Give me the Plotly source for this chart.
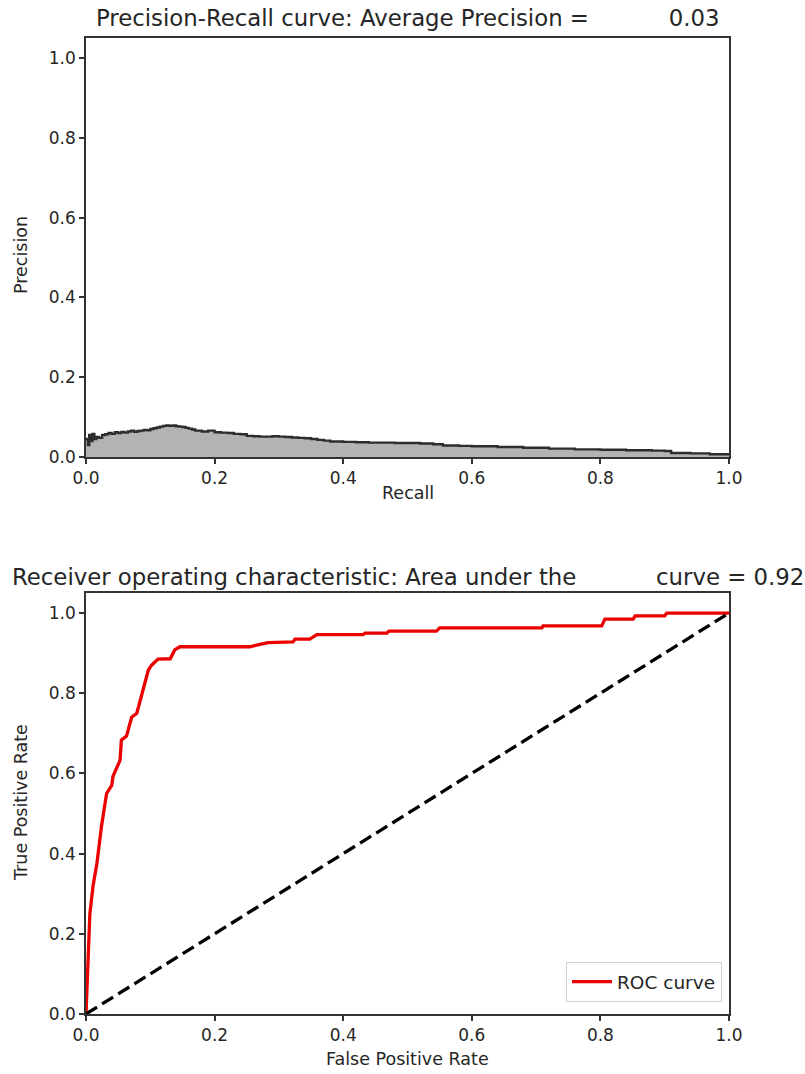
import plotly.graph_objects as go

# Precision-Recall curve data
recall = [0.000, 0.003, 0.005, 0.008, 0.010, 0.013, 0.016, 0.020, 0.025, 0.030,
          0.035, 0.040, 0.045, 0.050, 0.055, 0.060, 0.065, 0.070, 0.075, 0.080,
          0.085, 0.090, 0.095, 0.100, 0.105, 0.110, 0.115, 0.120, 0.125, 0.130,
          0.135, 0.140, 0.145, 0.150, 0.155, 0.160, 0.165, 0.170, 0.180, 0.190,
          0.200, 0.210, 0.220, 0.230, 0.240, 0.250, 0.260, 0.270, 0.280, 0.290,
          0.300, 0.310, 0.320, 0.330, 0.340, 0.350, 0.360, 0.370, 0.380, 0.400,
          0.420, 0.440, 0.460, 0.480, 0.500, 0.520, 0.540, 0.555, 0.580, 0.600,
          0.640, 0.680, 0.720, 0.760, 0.800, 0.840, 0.880, 0.900, 0.910, 0.940,
          0.970, 1.000]
precision = [0.045, 0.030, 0.055, 0.040, 0.058, 0.045, 0.050, 0.048, 0.055, 0.057,
             0.060, 0.058, 0.062, 0.060, 0.063, 0.061, 0.064, 0.066, 0.063, 0.065,
             0.066, 0.068, 0.067, 0.070, 0.072, 0.074, 0.076, 0.078, 0.079, 0.078,
             0.079, 0.077, 0.076, 0.075, 0.073, 0.071, 0.069, 0.066, 0.064, 0.066,
             0.062, 0.061, 0.060, 0.058, 0.057, 0.053, 0.052, 0.051, 0.051, 0.052,
             0.051, 0.050, 0.049, 0.048, 0.047, 0.045, 0.043, 0.041, 0.039, 0.038,
             0.037, 0.036, 0.036, 0.035, 0.035, 0.034, 0.032, 0.029, 0.028, 0.027,
             0.025, 0.023, 0.021, 0.019, 0.018, 0.017, 0.016, 0.015, 0.010, 0.009,
             0.007, 0.005]
average_precision = 0.03

# ROC curve data
fpr = [0.000, 0.003, 0.006, 0.011, 0.017, 0.024, 0.032, 0.040, 0.042, 0.053,
       0.055, 0.063, 0.071, 0.079, 0.087, 0.097, 0.102, 0.112, 0.131, 0.138,
       0.146, 0.255, 0.265, 0.283, 0.322, 0.325, 0.348, 0.359, 0.431, 0.434,
       0.468, 0.471, 0.545, 0.550, 0.709, 0.711, 0.802, 0.807, 0.851, 0.854,
       0.900, 0.903, 1.000]
tpr = [0.000, 0.150, 0.250, 0.320, 0.376, 0.467, 0.550, 0.570, 0.593, 0.633,
       0.683, 0.693, 0.740, 0.750, 0.800, 0.858, 0.870, 0.885, 0.886, 0.908,
       0.916, 0.916, 0.920, 0.926, 0.928, 0.935, 0.935, 0.946, 0.946, 0.950,
       0.950, 0.955, 0.955, 0.963, 0.963, 0.968, 0.968, 0.985, 0.985, 0.993,
       0.993, 1.000, 1.000]
roc_auc = 0.92
diag = [0, 1]

tick_vals = [0.0, 0.2, 0.4, 0.6, 0.8, 1.0]
tick_text = ["0.0", "0.2", "0.4", "0.6", "0.8", "1.0"]

W, H = 805, 1074
xd = [86 / W, 729 / W]
y1d = [(H - 457) / H, (H - 38) / H]
y2d = [(H - 1014) / H, (H - 593) / H]

FONT = "DejaVu Sans"
TXT = "#262626"
TICK_SIZE = 17
LABEL_SIZE = 17.5
TITLE_SIZE = 22.8

fig = go.Figure()

fig.add_trace(go.Scatter(
    x=recall, y=precision, mode="lines", line_shape="hv",
    line=dict(color="rgb(45,45,45)", width=2.4),
    fill="tozeroy", fillcolor="rgb(179,179,179)",
    showlegend=False, xaxis="x", yaxis="y"))

fig.add_trace(go.Scatter(
    x=fpr, y=tpr, mode="lines", name="ROC curve",
    line=dict(color="rgb(235,0,0)", width=3.3),
    showlegend=True, xaxis="x2", yaxis="y2"))

fig.add_trace(go.Scatter(
    x=diag, y=diag, mode="lines",
    line=dict(color="black", width=3.3, dash="13px,6px"),
    showlegend=False, xaxis="x2", yaxis="y2"))

axis_common = dict(
    tickvals=tick_vals, ticktext=tick_text, ticks="outside", ticklen=5,
    tickwidth=1.5, tickcolor="#333", showline=True, linecolor="#333", linewidth=1.5,
    mirror=True, showgrid=False, zeroline=False, automargin=False,
    tickfont=dict(family=FONT, size=TICK_SIZE, color=TXT))

fig.update_layout(
    width=W, height=H,
    margin=dict(l=0, r=0, t=0, b=0),
    paper_bgcolor="white", plot_bgcolor="white",
    xaxis=dict(domain=xd, range=[0, 1], anchor="y", **axis_common),
    yaxis=dict(domain=y1d, range=[0, 1.05], anchor="x", **axis_common),
    xaxis2=dict(domain=xd, range=[0, 1], anchor="y2", **axis_common),
    yaxis2=dict(domain=y2d, range=[0, 1.05], anchor="x2", **axis_common),
    legend=dict(x=722 / W, y=(H - 1002) / H, xanchor="right", yanchor="bottom",
                bgcolor="white", bordercolor="#d0d0d0", borderwidth=1, itemwidth=40,
                font=dict(family=FONT, size=18.5, color=TXT)),
    showlegend=True,
)

def note(text, x, y, size, angle=0):
    fig.add_annotation(text=text, x=x / W, y=(H - y) / H, xref="paper", yref="paper",
                       xanchor="center", yanchor="middle", showarrow=False, textangle=angle,
                       font=dict(family=FONT, size=size, color=TXT))

cx = (86 + 729) / 2
note("Precision-Recall curve: Average Precision =" + "\u00a0" * 11 + "{:0.2f}".format(average_precision),
     cx, 18, TITLE_SIZE)
note("Receiver operating characteristic: Area under the" + "\u00a0" * 11 + "curve = {:0.2f}".format(roc_auc),
     cx, 577, TITLE_SIZE)
note("Recall", cx, 493, LABEL_SIZE)
note("False Positive Rate", cx, 1059, LABEL_SIZE)
note("Precision", 21, 255, LABEL_SIZE, -90)
note("True Positive Rate", 21, 803, LABEL_SIZE, -90)

fig.write_html("out.html", config={"displayModeBar": False},
               post_script="document.body.style.margin='0';document.body.style.overflow='hidden';")
